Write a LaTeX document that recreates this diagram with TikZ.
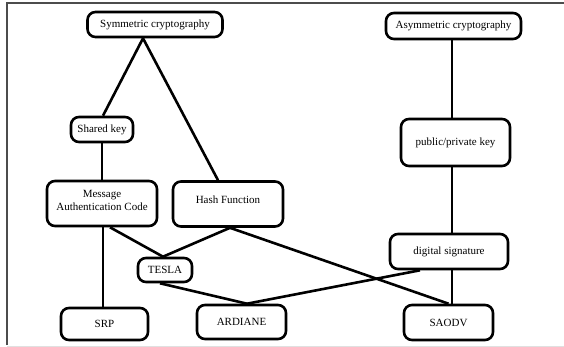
\documentclass[tikz,border=0pt]{standalone}
\usepackage{fontspec}
\setmainfont{Liberation Serif}
\begin{document}
\begin{tikzpicture}[x=1pt,y=-1pt,
  box/.style={draw=black,line width=2.6pt,rounded corners=8pt,fill=white,inner sep=0pt,font=\fontsize{11}{12.5}\selectfont,align=center},
  link/.style={line width=2.6pt},
  thinlink/.style={line width=1.8pt},
  frame/.style={draw=black!70,line width=1.1pt}]
\useasboundingbox (0,0) rectangle (564,347);
\draw[frame] (7,345) -- (7,3) -- (564,3);
\draw[draw=black!12,line width=1pt] (7,346) -- (564,346);

\node[box,minimum width=135pt,minimum height=25pt] (sym) at (155,24.5) {Symmetric cryptography};
\node[box,minimum width=62pt,minimum height=25pt] (shared) at (102,129.5) {Shared key};
\node[box,minimum width=135pt,minimum height=26pt] (asym) at (453.5,26) {Asymmetric cryptography};
\node[box,minimum width=109pt,minimum height=47pt] (pub) at (455.5,142.5) {public/private key};
\node[box,minimum width=110pt,minimum height=45pt,label={[yshift=3pt,font=\fontsize{11}{12.5}\selectfont,align=center]center:Message\\Authentication Code}] (mac) at (102,203.5) {};
\node[box,minimum width=110pt,minimum height=45pt,label={[yshift=4.5pt,font=\fontsize{11}{12.5}\selectfont]center:Hash Function}] (hash) at (228,204) {};
\node[box,minimum width=54pt,minimum height=24pt] (tesla) at (165,270) {TESLA};
\node[box,minimum width=87pt,minimum height=32pt] (srp) at (104.5,324) {SRP};
\node[box,minimum width=89pt,minimum height=34pt] (ardiane) at (241.5,322) {ARDIANE};
\node[box,minimum width=118pt,minimum height=35pt] (dig) at (449,251.5) {digital signature};
\node[box,minimum width=89pt,minimum height=35pt] (saodv) at (448.5,322.5) {SAODV};

\draw[link] ([xshift=-12pt]sym.south) -- ([xshift=1pt]shared.north);
\draw[link] ([xshift=-12pt]sym.south) -- ([xshift=-10pt]hash.north);
\draw[link] (shared.south) -- (mac.north);
\draw[link] ([xshift=1pt]mac.south) -- ([xshift=-1.5pt]srp.north);
\draw[link] ([xshift=8pt]mac.south) -- ([xshift=-2pt]tesla.north);
\draw[link] ([xshift=2pt]hash.south) -- ([xshift=-2pt]tesla.north);
\draw[link] ([xshift=2pt]hash.south) -- (saodv.north);
\draw[link] ([xshift=-5pt]tesla.south) -- ([xshift=5.5pt]ardiane.north);
\draw[link] ([xshift=5.5pt]ardiane.north) -- ([xshift=-29pt]dig.south);
\draw[link] ([xshift=-1.5pt]asym.south) -- ([xshift=-3.5pt]pub.north);
\draw[thinlink] ([xshift=-3.5pt]pub.south) -- ([xshift=3pt]dig.north);
\draw[thinlink] ([xshift=3pt]dig.south) -- ([xshift=3.5pt]saodv.north);
\end{tikzpicture}
\end{document}
